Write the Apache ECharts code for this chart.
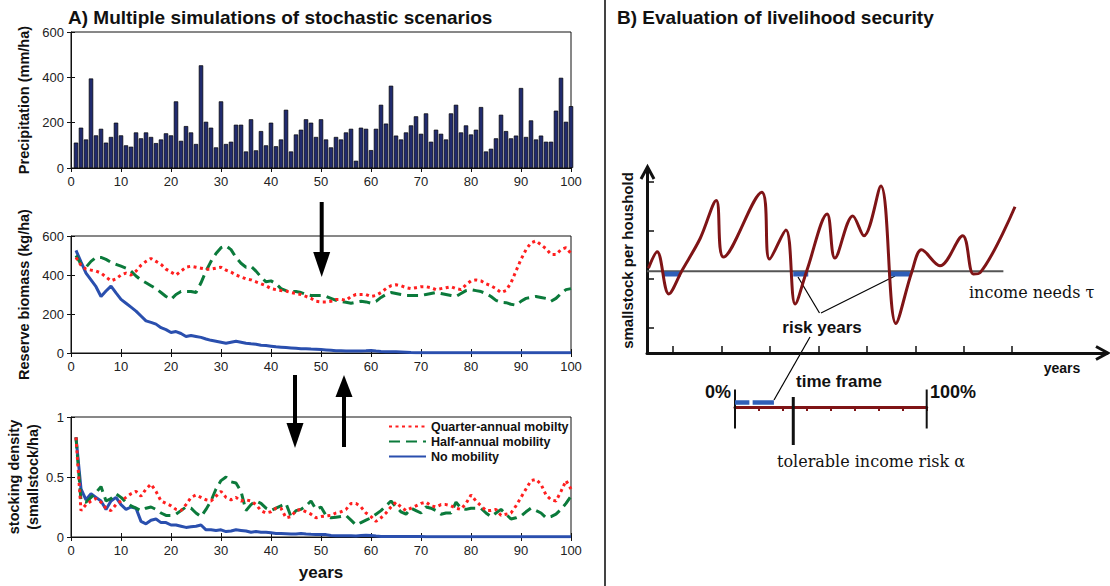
<!DOCTYPE html>
<html>
<head>
<meta charset="utf-8">
<script src="https://cdn.jsdelivr.net/npm/echarts@6/dist/echarts.min.js"></script>
<style>
  html, body { margin: 0; padding: 0; background: #fff; }
  #chart { width: 1110px; height: 586px; }
</style>
</head>
<body>
<div id="chart"></div>
<script>
// ---------- data: panel A (100 simulated years) ----------
const years = Array.from({ length: 100 }, (_, i) => i + 1);

const precipitation = [
  112, 178, 126, 395, 144, 173, 112, 137, 200, 144,
  100, 94, 157, 131, 157, 137, 110, 126, 153, 144,
  294, 120, 185, 157, 106, 453, 204, 178, 91, 294,
  106, 116, 191, 191, 73, 215, 78, 163, 100, 200,
  96, 126, 257, 73, 148, 169, 215, 200, 137, 215,
  126, 91, 137, 126, 157, 173, 32, 178, 173, 79,
  173, 279, 196, 363, 143, 126, 157, 188, 228, 151,
  241, 116, 169, 151, 126, 241, 279, 157, 188, 148,
  169, 269, 73, 85, 131, 235, 163, 131, 143, 353,
  137, 210, 126, 143, 116, 116, 253, 398, 204, 273
];

const biomassQuarter = [
  490, 450, 430, 425, 420, 410, 390, 370, 380, 400,
  410, 400, 420, 450, 470, 485, 470, 455, 430, 415,
  400, 420, 440, 445, 440, 435, 430, 430, 435, 440,
  425, 415, 400, 390, 380, 375, 365, 355, 345, 330,
  325, 320, 318, 310, 305, 300, 290, 280, 265, 262,
  262, 265, 275, 275, 270, 290, 300, 300, 300, 290,
  295, 310, 330, 345, 350, 345, 335, 330, 335, 340,
  340, 335, 325, 330, 335, 340, 330, 325, 350, 370,
  375, 370, 355, 345, 330, 310, 320, 360, 420, 480,
  530, 565, 575, 555, 535, 505, 505, 530, 540, 510
];
const biomassHalf = [
  500, 455, 440, 470, 490, 490, 480, 465, 455, 445,
  435, 420, 395, 375, 360, 345, 330, 310, 290, 275,
  300, 315, 315, 315, 310, 360, 420, 470, 510, 540,
  550, 530, 490, 460, 440, 445, 420, 390, 365, 370,
  355, 330, 320, 315, 315, 310, 300, 295, 295, 295,
  290, 280, 270, 265, 260, 255, 260, 265, 262, 255,
  265, 285, 300, 310, 305, 300, 295, 295, 295, 295,
  300, 305, 310, 305, 300, 295, 290, 305, 320, 325,
  320, 315, 305, 290, 270, 260, 258, 250, 245, 265,
  280, 285, 290, 285, 280, 265, 280, 305, 325, 330
];
const biomassNone = [
  526, 467, 410, 375, 340, 290, 318, 343, 308, 275,
  255, 235, 215, 190, 165, 157, 148, 130, 120, 105,
  110, 100, 85, 90, 85, 80, 72, 65, 60, 55,
  50, 55, 60, 55, 50, 47, 45, 40, 38, 35,
  32, 30, 28, 26, 24, 22, 22, 20, 19, 18,
  16, 14, 12, 11, 10, 10, 10, 10, 11, 13,
  10, 8, 7, 7, 6, 5, 4, 2, 1, 1,
  1, 1, 1, 1, 1, 1, 1, 1, 1, 1,
  1, 1, 1, 1, 1, 1, 1, 1, 1, 1,
  1, 1, 1, 1, 1, 1, 1, 1, 1, 1
];

const densityQuarter = [
  0.83, 0.22, 0.27, 0.30, 0.32, 0.29, 0.24, 0.22, 0.27, 0.30,
  0.33, 0.36, 0.38, 0.34, 0.40, 0.44, 0.38, 0.30, 0.28, 0.26,
  0.23, 0.22, 0.27, 0.33, 0.35, 0.33, 0.31, 0.30, 0.34, 0.38,
  0.33, 0.31, 0.33, 0.30, 0.31, 0.30, 0.27, 0.22, 0.20, 0.21,
  0.24, 0.24, 0.16, 0.17, 0.22, 0.23, 0.21, 0.19, 0.16, 0.17,
  0.175, 0.18, 0.20, 0.21, 0.23, 0.28, 0.28, 0.25, 0.20, 0.17,
  0.13, 0.16, 0.20, 0.25, 0.29, 0.25, 0.22, 0.24, 0.26, 0.28,
  0.29, 0.26, 0.25, 0.27, 0.27, 0.26, 0.24, 0.23, 0.28, 0.35,
  0.30, 0.26, 0.22, 0.22, 0.23, 0.18, 0.19, 0.20, 0.26, 0.33,
  0.40, 0.47, 0.48, 0.44, 0.35, 0.31, 0.30, 0.38, 0.47, 0.40
];
const densityHalf = [
  0.83, 0.30, 0.29, 0.33, 0.37, 0.42, 0.30, 0.32, 0.36, 0.33,
  0.29, 0.26, 0.24, 0.22, 0.24, 0.25, 0.23, 0.20, 0.18, 0.18,
  0.19, 0.22, 0.25, 0.24, 0.20, 0.17, 0.23, 0.30, 0.40, 0.47,
  0.50, 0.46, 0.45, 0.38, 0.22, 0.27, 0.30, 0.28, 0.24, 0.22,
  0.24, 0.26, 0.28, 0.17, 0.22, 0.23, 0.26, 0.30, 0.23, 0.25,
  0.18, 0.16, 0.165, 0.17, 0.18, 0.14, 0.10, 0.12, 0.14, 0.16,
  0.19, 0.22, 0.26, 0.30, 0.25, 0.21, 0.19, 0.24, 0.22, 0.20,
  0.25, 0.24, 0.22, 0.19, 0.20, 0.20, 0.29, 0.24, 0.23, 0.24,
  0.24, 0.24, 0.20, 0.17, 0.20, 0.23, 0.19, 0.15, 0.16, 0.175,
  0.21, 0.24, 0.22, 0.20, 0.16, 0.17, 0.19, 0.23, 0.28, 0.34
];
const densityNone = [
  0.83, 0.40, 0.31, 0.36, 0.33, 0.30, 0.23, 0.30, 0.33, 0.27,
  0.23, 0.25, 0.24, 0.13, 0.11, 0.14, 0.15, 0.12, 0.12, 0.10,
  0.10, 0.09, 0.08, 0.085, 0.09, 0.10, 0.06, 0.06, 0.055, 0.06,
  0.045, 0.05, 0.06, 0.055, 0.05, 0.04, 0.045, 0.04, 0.04, 0.035,
  0.03, 0.03, 0.028, 0.025, 0.025, 0.03, 0.025, 0.022, 0.02, 0.02,
  0.02, 0.012, 0.01, 0.01, 0.01, 0.01, 0.008, 0.012, 0.015, 0.012,
  0.008, 0.005, 0.005, 0.005, 0.005, 0.005, 0.005, 0.005, 0.005, 0.004,
  0.003, 0.003, 0.003, 0.003, 0.003, 0.003, 0.003, 0.003, 0.003, 0.003,
  0.003, 0.003, 0.003, 0.003, 0.003, 0.003, 0.003, 0.003, 0.003, 0.003,
  0.003, 0.003, 0.003, 0.003, 0.003, 0.003, 0.003, 0.003, 0.003, 0.003
];

const scenarioNames = ['Quarter-annual mobilty', 'Half-annual mobility', 'No mobility'];

// ---------- data: panel B (schematic) ----------
const stockCurve = [
  [0.03, 1.75], [0.21, 2.09], [0.45, 1.22], [0.72, 1.70], [1.10, 2.37],
  [1.43, 3.15], [1.58, 1.98], [2.37, 3.32], [2.53, 1.94], [2.87, 2.54],
  [3.06, 1.01], [3.30, 1.70], [3.72, 2.87], [3.88, 1.96], [4.25, 2.83],
  [4.48, 2.42], [4.83, 3.45], [5.14, 0.61], [5.47, 1.68], [5.67, 2.13],
  [6.05, 1.80], [6.52, 2.42], [6.74, 1.63], [6.88, 1.66], [7.60, 3.02]
];
const incomeNeeds = 1.69;
const incomeSpan = [0, 7.36];
const riskYears = [[0.34, 0.70], [3.02, 3.33], [4.99, 5.43]];
const riskLevel = 1.63;
const yearTicks = [0.54, 1.54, 2.54, 3.54, 4.54, 5.54, 6.54, 7.54];
const stockTicks = [0.53, 1.53, 2.53, 3.53];
// time frame bar, in % of the time frame
const riskShare = [[0, 7.5], [9.2, 20.3]];
const tolerableRisk = 30.4;

// ---------- colours ----------
const C = {
  ink: '#111',
  bar: '#202a6e',
  quarter: '#ff1f1f',
  half: '#0b7a3b',
  none: '#2a4fae',
  wine: '#7f1416',
  needs: '#555',
  risk: '#2f5fb8'
};
const FONT = '"Liberation Sans", Arial, sans-serif';
const SERIF = '"DejaVu Serif", serif';

const chart = echarts.init(document.getElementById('chart'), null, { renderer: 'svg' });

// ---------- panel A layout ----------
const panels = [
  { top: 32, height: 136, max: 600, interval: 200, name: 'Precipitation (mm/ha)', gap: 38 },
  { top: 236, height: 117, max: 600, interval: 200, name: 'Reserve biomass (kg/ha)', gap: 38 },
  { top: 417, height: 120, max: 1, interval: 0.5, name: 'stocking density\n(smallstock/ha)', gap: 28 }
];

const grids = [];
const xAxes = [];
const yAxes = [];

const tick = { show: true, inside: true, length: 4, lineStyle: { color: C.ink, width: 1 } };
const label = { color: '#222', fontSize: 13, fontFamily: FONT };

panels.forEach((p, i) => {
  grids.push({ left: 71, top: p.top, width: 500, height: p.height, show: true, borderColor: C.ink, borderWidth: 1, backgroundColor: 'transparent' });
  xAxes.push({
    type: 'value', gridIndex: i, min: 0, max: 100, interval: 10, position: 'bottom',
    axisLine: { show: true, onZero: false, lineStyle: { color: C.ink, width: 1 } },
    axisTick: tick, splitLine: { show: false },
    axisLabel: Object.assign({ margin: 7 }, label),
    name: i === 2 ? 'years' : '', nameLocation: 'middle', nameGap: 27,
    nameTextStyle: { fontSize: 17, fontWeight: 'bold', color: C.ink, fontFamily: FONT }
  });
  xAxes.push({
    type: 'value', gridIndex: i, min: 0, max: 100, interval: 10, position: 'top',
    axisLine: { show: false }, axisTick: tick, axisLabel: { show: false }, splitLine: { show: false }
  });
  yAxes.push({
    type: 'value', gridIndex: i, min: 0, max: p.max, interval: p.interval, position: 'left',
    axisLine: { show: true, onZero: false, lineStyle: { color: C.ink, width: 1 } },
    axisTick: tick, splitLine: { show: false },
    axisLabel: Object.assign({ margin: 7 }, label),
    name: p.name, nameLocation: 'middle', nameGap: p.gap,
    nameTextStyle: { fontSize: 14.5, fontWeight: 'bold', color: C.ink, fontFamily: FONT, lineHeight: 19 }
  });
  yAxes.push({
    type: 'value', gridIndex: i, min: 0, max: p.max, interval: p.interval, position: 'right',
    axisLine: { show: false }, axisTick: tick, axisLabel: { show: false }, splitLine: { show: false }
  });
});

// ---------- panel B: stock schematic ----------
grids.push({ left: 647, top: 168, width: 460, height: 185 });
xAxes.push({
  type: 'value', gridIndex: 3, min: 0, max: 9.5,
  axisLine: { show: true, onZero: false, lineStyle: { color: C.ink, width: 3 } },
  axisTick: { show: true, inside: true, length: 7, customValues: yearTicks, lineStyle: { color: C.ink, width: 1.5 } },
  axisLabel: { show: false }, splitLine: { show: false }
});
yAxes.push({
  type: 'value', gridIndex: 3, min: 0, max: 3.82,
  axisLine: { show: true, onZero: false, lineStyle: { color: C.ink, width: 3 } },
  axisTick: { show: true, inside: true, length: 7, customValues: stockTicks, lineStyle: { color: C.ink, width: 1.5 } },
  axisLabel: { show: false }, splitLine: { show: false },
  name: 'smallstock per houshold', nameLocation: 'middle', nameGap: 12,
  nameTextStyle: { fontSize: 15, fontWeight: 'bold', color: C.ink, fontFamily: FONT }
});

// ---------- panel B: time frame bar ----------
grids.push({ left: 735, top: 389, width: 191.7, height: 56 });
xAxes.push({
  type: 'value', gridIndex: 4, min: 0, max: 100, interval: 12.5,
  axisLine: { show: true, onZero: true, lineStyle: { color: C.wine, width: 3 } },
  axisTick: { show: true, inside: false, length: 4, lineStyle: { color: C.wine, width: 2 } },
  axisLabel: { show: false }, splitLine: { show: false }
});
yAxes.push({ type: 'value', gridIndex: 4, min: -38, max: 18, show: false });

// ---------- series ----------
const pairs = (arr) => years.map((y, i) => [y, arr[i]]);
const lineSeries = (name, data, xi, color, width, type) => ({
  name, type: 'line', xAxisIndex: xi, yAxisIndex: xi, data: pairs(data),
  symbol: 'none', silent: true, animation: false,
  lineStyle: { color, width, type }, itemStyle: { color }
});
const plain = (data, color, width, z) => ({
  type: 'line', xAxisIndex: 0, yAxisIndex: 0, data, symbol: 'none', silent: true, z: z || 2,
  lineStyle: { color, width, cap: 'butt' }, itemStyle: { color }
});

const series = [
  {
    type: 'bar', xAxisIndex: 0, yAxisIndex: 0, data: pairs(precipitation), barWidth: 4.4,
    itemStyle: { color: C.bar, borderColor: '#000', borderWidth: 0.7 }, silent: true
  },
  lineSeries(scenarioNames[2], biomassNone, 2, C.none, 3, 'solid'),
  lineSeries(scenarioNames[1], biomassHalf, 2, C.half, 3, [11, 6]),
  lineSeries(scenarioNames[0], biomassQuarter, 2, C.quarter, 3, [3, 3.5]),
  lineSeries(scenarioNames[2], densityNone, 4, C.none, 3, 'solid'),
  lineSeries(scenarioNames[1], densityHalf, 4, C.half, 3, [11, 6]),
  lineSeries(scenarioNames[0], densityQuarter, 4, C.quarter, 3, [3, 3.5])
];

// schematic marks
const onB = (s) => Object.assign(s, { xAxisIndex: 6, yAxisIndex: 6 });
const onFrame = (s) => Object.assign(s, { xAxisIndex: 7, yAxisIndex: 7 });
series.push(onB(plain([[incomeSpan[0], incomeNeeds], [incomeSpan[1], incomeNeeds]], C.needs, 2)));
riskYears.forEach(r => series.push(onB(plain([[r[0], riskLevel], [r[1], riskLevel]], C.risk, 5))));
series.push(onB(Object.assign(plain(stockCurve, C.wine, 3, 4), { smooth: 0.35 })));

series.push(onFrame(plain([[0, 17.5], [0, -21.5]], C.ink, 2)));
series.push(onFrame(plain([[100, 17.5], [100, -21.5]], C.ink, 2)));
riskShare.forEach(r => series.push(onFrame(plain([[r[0], 4.6], [r[1], 4.6]], C.risk, 4.5))));
series.push(onFrame(plain([[tolerableRisk, 10], [tolerableRisk, -38]], C.ink, 3)));

// ---------- annotations ----------
const downArrow = (x, y1, y2) => [
  { type: 'line', shape: { x1: x, y1, x2: x, y2: y2 - 20 }, style: { stroke: '#000', lineWidth: 4 } },
  { type: 'polygon', shape: { points: [[x - 8.5, y2 - 25], [x + 8.5, y2 - 25], [x, y2]] }, style: { fill: '#000' } }
];
const upArrow = (x, y1, y2) => [
  { type: 'line', shape: { x1: x, y1, x2: x, y2: y2 + 20 }, style: { stroke: '#000', lineWidth: 4 } },
  { type: 'polygon', shape: { points: [[x - 8.5, y2 + 22], [x + 8.5, y2 + 22], [x, y2]] }, style: { fill: '#000' } }
];
const chevron = (points) => ({ type: 'polyline', shape: { points }, style: { stroke: C.ink, lineWidth: 3, fill: 'none' } });
const text = (t, x, y, font, align) => ({
  type: 'text', x, y, silent: true,
  style: { text: t, font, fill: C.ink, align: align || 'left', verticalAlign: 'middle' }
});
const leader = (x1, y1, x2, y2) => ({ type: 'line', shape: { x1, y1, x2, y2 }, style: { stroke: '#000', lineWidth: 1.2 } });

const graphic = [
  { type: 'line', shape: { x1: 605, y1: 0, x2: 605, y2: 586 }, style: { stroke: '#444', lineWidth: 2 } },
  ...downArrow(321.7, 202, 277),
  ...downArrow(295, 375, 448),
  ...upArrow(344, 447, 375),
  chevron([[641, 179], [647.5, 167], [654, 179]]),
  chevron([[1096, 346.5], [1108, 353], [1096, 359.5]]),
  leader(798, 277, 819.5, 313),
  leader(821, 313, 895, 276),
  leader(810, 337, 774, 400),
  text('income needs τ', 969, 292, '16px ' + SERIF),
  text('risk years', 822, 327, 'bold 17px ' + FONT, 'center'),
  text('years', 1062, 368, 'bold 14px ' + FONT, 'center'),
  text('time frame', 796, 381, 'bold 17px ' + FONT),
  text('0%', 731, 392, 'bold 18px ' + FONT, 'right'),
  text('100%', 930, 392, 'bold 18px ' + FONT),
  text('tolerable income risk α', 777, 461, '16px ' + SERIF)
];

chart.setOption({
  animation: false,
  backgroundColor: '#fff',
  textStyle: { fontFamily: FONT },
  title: [
    { text: 'A) Multiple simulations of stochastic scenarios', left: 63, top: 3, textStyle: { fontSize: 19, fontWeight: 'bold', color: C.ink, fontFamily: FONT } },
    { text: 'B) Evaluation of livelihood security', left: 612, top: 3, textStyle: { fontSize: 19, fontWeight: 'bold', color: C.ink, fontFamily: FONT } }
  ],
  legend: {
    data: scenarioNames, orient: 'vertical', left: 383, top: 415,
    itemWidth: 37, itemHeight: 10, itemGap: 2, selectedMode: false,
    itemStyle: { color: 'rgba(0,0,0,0)', borderWidth: 0, opacity: 0 },
    textStyle: { fontSize: 12.5, fontWeight: 'bold', color: C.ink, fontFamily: FONT }
  },
  grid: grids,
  xAxis: xAxes,
  yAxis: yAxes,
  series,
  graphic
});
window.addEventListener('resize', () => chart.resize());
</script>
</body>
</html>
